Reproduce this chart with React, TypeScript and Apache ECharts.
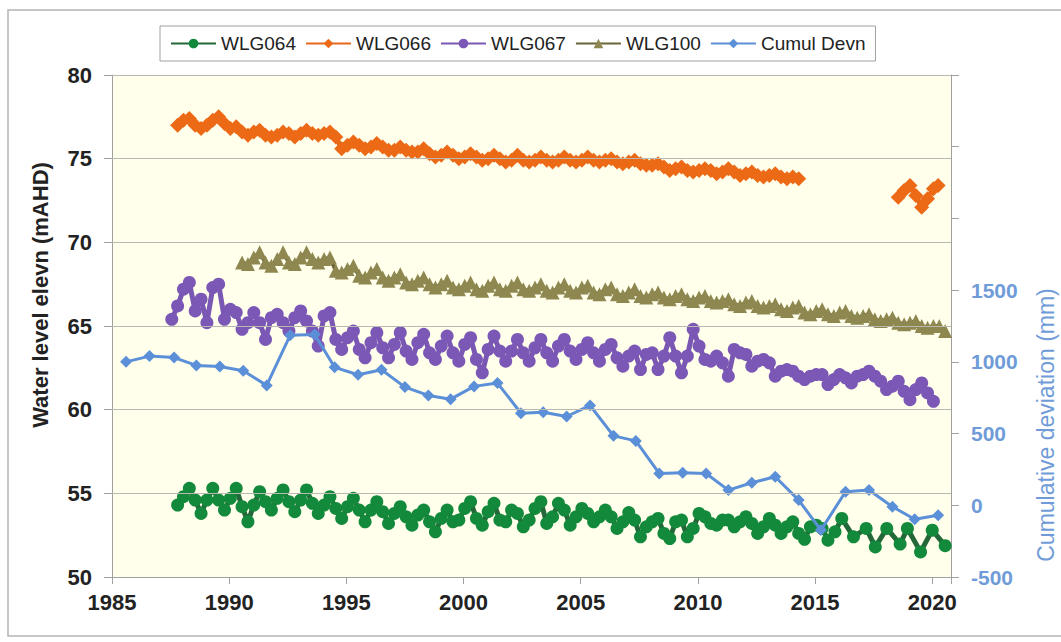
import React, { useEffect, useRef } from 'react';
import * as echarts from 'echarts';

const FONT = '"Liberation Sans", Arial, Helvetica, sans-serif';
const QSTEP = 0.25;

// WLG064: quarterly readings from 1987.8, then sparse readings
const WLG064_START = 1987.8;
const WLG064_Q = [
  54.3,
  54.8, 55.3, 54.6, 53.8,
  54.6, 55.3, 54.6, 54.0,
  54.7, 55.3, 54.2, 53.3,
  54.3, 55.1, 54.5, 54.0,
  54.7, 55.2, 54.5, 53.9,
  54.6, 55.2, 54.4, 53.8,
  54.3, 54.8, 54.1, 53.5,
  54.2, 54.7, 54.0, 53.3,
  54.0, 54.5, 53.9, 53.2,
  53.8, 54.2, 53.6, 53.1,
  53.7, 54.0, 53.3, 52.7,
  53.5, 54.0, 53.3, 53.4,
  54.1, 54.5, 53.5, 53.1,
  53.9, 54.4, 53.4, 53.3,
  54.0, 53.8, 53.0, 53.4,
  54.1, 54.5, 53.2, 53.6,
  54.4, 54.0, 53.1, 53.6,
  54.1, 53.8, 53.3, 53.6,
  54.0, 53.6, 52.9, 53.3,
  53.85, 53.4, 52.4, 53.0,
  53.3, 53.5, 52.6, 52.3,
  53.3, 53.4, 52.4, 52.9,
  53.8, 53.6, 53.2, 53.1,
  53.4, 53.4, 53.0, 53.3,
  53.6, 53.2, 52.6, 53.0,
  53.5, 53.1, 52.6, 53.0,
  53.3, 52.6, 52.25, 53.0,
  53.1, 52.9, 52.2,
];
const WLG064_LATE_YEARS = [2015.85, 2016.14, 2016.64, 2017.18, 2017.57, 2018.06, 2018.63, 2018.94, 2019.5, 2020.0, 2020.55];
const WLG064_LATE = [52.7, 53.5, 52.4, 52.9, 51.8, 52.9, 51.97, 52.9, 51.5, 52.8, 51.87];

// WLG066
const WLG066_START = 1987.8;
const WLG066_Q = [
  77.0,
  77.3, 77.4, 77.0, 76.8,
  77.0, 77.3, 77.5, 77.1,
  76.8, 76.9, 76.6, 76.4,
  76.6, 76.7, 76.4, 76.3,
  76.4, 76.6, 76.5, 76.3,
  76.5, 76.7, 76.5, 76.4,
  76.5, 76.6, 76.3, 75.6,
  75.8, 76.0, 75.8, 75.6,
  75.7, 75.9, 75.7, 75.5,
  75.5, 75.7, 75.5, 75.4,
  75.4, 75.6, 75.3, 75.1,
  75.2, 75.4, 75.2, 75.0,
  75.1, 75.3, 75.1, 74.9,
  75.0, 75.2, 75.0, 74.8,
  74.9, 75.2, 74.9, 74.8,
  74.9, 75.1, 74.9, 74.8,
  74.9, 75.1, 74.9, 74.8,
  74.9, 75.1, 74.9, 74.8,
  74.9, 75.0, 74.8, 74.7,
  74.8, 74.9, 74.7, 74.6,
  74.6, 74.7, 74.5, 74.3,
  74.4, 74.5, 74.3, 74.2,
  74.3, 74.4, 74.3, 74.1,
  74.2, 74.4, 74.2, 74.0,
  74.1, 74.2, 74.0, 73.9,
  74.0, 74.1, 73.9, 73.8,
  73.9, 73.8,
];
const WLG066_LATE_YEARS = [2018.55, 2018.8, 2019.05, 2019.3, 2019.55, 2019.8, 2020.05, 2020.25];
const WLG066_LATE = [72.7, 73.1, 73.4, 72.8, 72.1, 72.6, 73.2, 73.4];

// WLG067
const WLG067_START = 1987.55;
const WLG067_Q = [
  65.4, 66.2,
  67.2, 67.6, 65.9, 66.6,
  65.2, 67.3, 67.5, 65.4,
  66.0, 65.8, 64.8, 65.2,
  65.8, 65.2, 64.2, 65.5,
  65.7, 65.2, 64.7, 65.5,
  65.9, 65.3, 64.7, 63.8,
  65.6, 65.8, 64.2, 63.6,
  64.3, 64.7, 63.6, 63.1,
  64.0, 64.6, 63.7, 63.1,
  63.9, 64.6, 63.5, 63.0,
  64.0, 64.5, 63.4, 63.0,
  63.8, 64.4, 63.4, 62.9,
  63.9, 64.3, 63.0, 62.2,
  63.6, 64.4, 63.5, 62.9,
  63.5, 64.2, 63.4, 62.9,
  63.7, 64.2, 63.4, 62.9,
  63.8, 64.2, 63.5, 63.0,
  63.6, 64.0, 63.4, 62.9,
  63.6, 63.9, 63.1, 62.6,
  63.2, 63.5, 62.4, 63.3,
  63.4, 62.4, 63.2, 64.3,
  63.2, 62.2, 63.2, 64.8,
  63.8, 63.0, 62.9, 63.2,
  62.8, 62.0, 63.6, 63.4,
  63.3, 62.6, 62.9, 63.0,
  62.8, 62.0, 62.3, 62.4,
  62.3, 62.0, 61.8, 62.0,
  62.1, 62.1, 61.5, 61.8,
  62.1, 61.9, 61.6, 62.0,
  62.1, 62.3, 62.0, 61.7,
  61.2, 61.4, 61.7, 61.1,
  60.6, 61.2, 61.6, 61.0,
  60.5,
];

// WLG100
const WLG100_START = 1990.55;
const WLG100_Q = [
  68.8, 68.7,
  69.1, 69.4, 68.8, 68.6,
  69.0, 69.4, 68.8, 68.7,
  69.1, 69.4, 69.0, 68.8,
  69.0, 69.1, 68.3, 68.2,
  68.4, 68.6, 68.0, 67.9,
  68.2, 68.4, 67.9, 67.7,
  67.9, 68.1, 67.6, 67.5,
  67.7, 67.9, 67.5, 67.3,
  67.5, 67.7, 67.3, 67.2,
  67.4, 67.6, 67.2, 67.1,
  67.4, 67.6, 67.2, 67.1,
  67.4, 67.6, 67.2, 67.1,
  67.3, 67.5, 67.1, 67.0,
  67.3, 67.5, 67.1, 67.0,
  67.3, 67.4, 67.0, 66.9,
  67.2, 67.3, 66.9, 66.8,
  67.0, 67.2, 66.8, 66.7,
  66.9, 67.0, 66.7, 66.6,
  66.8, 66.9, 66.6, 66.5,
  66.7, 66.8, 66.5, 66.4,
  66.5, 66.6, 66.3, 66.2,
  66.4, 66.5, 66.2, 66.1,
  66.2, 66.3, 66.0, 65.9,
  66.1, 66.2, 65.8, 65.7,
  65.9, 66.0, 65.7, 65.6,
  65.8, 65.9, 65.6, 65.5,
  65.6, 65.7, 65.4, 65.3,
  65.4, 65.5, 65.2, 65.1,
  65.2, 65.3, 65.0, 64.9,
  65.0, 65.0, 64.7,
];

// Cumulative deviation (mm), annual
const CUMUL_YEARS = [
  1985.6, 1986.6, 1987.65, 1988.6, 1989.6, 1990.6, 1991.6, 1992.6, 1993.65, 1994.5,
  1995.5, 1996.5, 1997.5, 1998.5, 1999.45, 2000.45, 2001.45, 2002.45, 2003.4, 2004.4,
  2005.4, 2006.4, 2007.35, 2008.35, 2009.35, 2010.35, 2011.3, 2012.3, 2013.3, 2014.3,
  2015.25, 2016.3, 2017.3, 2018.3, 2019.25, 2020.25,
];
const CUMUL_DEVN = [
  1000, 1040, 1030, 975, 968, 938, 836, 1185, 1190, 962,
  910, 945, 824, 766, 740, 829, 852, 642, 648, 619,
  696, 484, 449, 222, 227, 222, 106, 157, 199, 36,
  -173, 94, 106, -10, -97, -69,
];

const X_MIN = 1985;
const X_MAX = 2020.8;
const X_INTERVAL = 5;
const Y_LEFT = { min: 50, max: 80, interval: 5 };
const Y_RIGHT = { min: -500, max: 3000, interval: 500, labelMax: 1500 };
const GRID_LEVELS = [55, 60, 65, 70, 75, 80];

function quarterly(start: number, values: number[]) {
  return values.map((v, i) => [Math.round((start + i * QSTEP) * 1000) / 1000, v]);
}
function pairs(years: number[], values: number[]) {
  return years.map((y, i) => [y, values[i]]);
}

export default function App() {
  const ref = useRef<HTMLDivElement>(null);
  useEffect(() => {
    if (!ref.current) return;
    const chart = echarts.init(ref.current, undefined, { renderer: 'svg' });

    const d064 = quarterly(WLG064_START, WLG064_Q).concat(pairs(WLG064_LATE_YEARS, WLG064_LATE));
    const d066: any[] = quarterly(WLG066_START, WLG066_Q);
    d066.push([2016.5, '-']);
    const d066all = d066.concat(pairs(WLG066_LATE_YEARS, WLG066_LATE));
    const d067 = quarterly(WLG067_START, WLG067_Q);
    const d100 = quarterly(WLG100_START, WLG100_Q);
    const dCum = pairs(CUMUL_YEARS, CUMUL_DEVN);

    const axisGray = '#A0A0A0';
    const gridGray = '#B9B9B2';
    const blue = '#5B8FD8';

    chart.setOption({
      animation: false,
      backgroundColor: '#ffffff',
      textStyle: { fontFamily: FONT },
      grid: {
        left: 112, right: 110, top: 75, bottom: 65,
        show: true, backgroundColor: '#FFFFEC', borderWidth: 0,
      },
      legend: {
        left: 160, top: 26,
        padding: [8, 10],
        itemWidth: 45, itemHeight: 12, itemGap: 9,
        borderColor: '#A0A0A0', borderWidth: 1, backgroundColor: '#ffffff',
        textStyle: { fontSize: 19, color: '#222', fontFamily: FONT },
        data: ['WLG064', 'WLG066', 'WLG067', 'WLG100', 'Cumul Devn'],
      },
      xAxis: {
        type: 'value', min: X_MIN, max: X_MAX, interval: X_INTERVAL,
        axisLine: { show: true, onZero: false, lineStyle: { color: axisGray } },
        axisTick: { show: true, length: 7, lineStyle: { color: axisGray } },
        splitLine: { show: false },
        axisLabel: {
          formatter: (v: number) => (v % X_INTERVAL === 0 ? String(v) : ''),
          fontSize: 22, fontWeight: 'bold', color: '#222', margin: 14, fontFamily: FONT,
        },
      },
      yAxis: [
        {
          type: 'value', min: Y_LEFT.min, max: Y_LEFT.max, interval: Y_LEFT.interval, position: 'left',
          axisLine: { show: true, onZero: false, lineStyle: { color: axisGray } },
          axisTick: { show: true, length: 8, lineStyle: { color: axisGray } },
          splitLine: { show: true, lineStyle: { color: gridGray, width: 1, type: 'solid', opacity: 1 } },
          axisLabel: { fontSize: 22, fontWeight: 'bold', color: '#222', margin: 20, fontFamily: FONT },
        },
        {
          type: 'value', min: Y_RIGHT.min, max: Y_RIGHT.max, interval: Y_RIGHT.interval, position: 'right',
          axisLine: { show: true, onZero: false, lineStyle: { color: axisGray } },
          axisTick: { show: true, length: 8, lineStyle: { color: axisGray } },
          splitLine: { show: false },
          axisLabel: {
            formatter: (v: number) => (v <= Y_RIGHT.labelMax ? String(v) : ''),
            fontSize: 21, fontWeight: 'bold', color: '#6F9CD8', margin: 20, fontFamily: FONT,
          },
        },
      ],
      series: [
        {
          name: 'gridlines', type: 'line', z: 1, silent: true,
          data: [[X_MIN, Y_LEFT.min]], symbol: 'none', showSymbol: false,
          lineStyle: { width: 0, opacity: 0 },
          markLine: {
            silent: true, symbol: ['none', 'none'], animation: false,
            label: { show: false },
            lineStyle: { color: gridGray, width: 1, type: 'solid' },
            emphasis: { disabled: true },
            data: GRID_LEVELS.map((v) => ({ yAxis: v })),
          },
        },
        {
          name: 'WLG064', type: 'line', data: d064, symbol: 'circle', symbolSize: 13, showAllSymbol: true,
          lineStyle: { color: '#24683A', width: 5 }, itemStyle: { color: '#138A3B' }, z: 3,
        },
        {
          name: 'WLG066', type: 'line', data: d066all, symbol: 'diamond', symbolSize: 15, showAllSymbol: true,
          connectNulls: false,
          lineStyle: { color: '#E8681A', width: 5 }, itemStyle: { color: '#EC6A16' }, z: 3,
        },
        {
          name: 'WLG067', type: 'line', data: d067, symbol: 'circle', symbolSize: 13, showAllSymbol: true,
          lineStyle: { color: '#7A57B2', width: 5 }, itemStyle: { color: '#7C58B6' }, z: 3,
        },
        {
          name: 'WLG100', type: 'line', data: d100, symbol: 'triangle', symbolSize: 14, showAllSymbol: true,
          lineStyle: { color: '#6A6538', width: 4 }, itemStyle: { color: '#8E8850' }, z: 3,
        },
        {
          name: 'Cumul Devn', type: 'line', yAxisIndex: 1, data: dCum, symbol: 'diamond', symbolSize: 12,
          showAllSymbol: true,
          lineStyle: { color: blue, width: 3 }, itemStyle: { color: blue }, z: 4,
        },
      ],
      graphic: [
        {
          type: 'rect', silent: true, z: 100,
          shape: { x: 8, y: 10, width: 1070, height: 626 },
          style: { fill: 'none', stroke: '#B4B4B4', lineWidth: 1.5 },
        },
        {
          type: 'text', x: 40, y: 295, rotation: Math.PI / 2, silent: true,
          style: {
            text: 'Water level elevn (mAHD)', fontSize: 22, fontWeight: 'bold', fontFamily: FONT,
            fill: '#222', align: 'center', verticalAlign: 'middle', textAlign: 'center', textVerticalAlign: 'middle',
          },
        },
        {
          type: 'text', x: 1046, y: 425, rotation: Math.PI / 2, silent: true,
          style: {
            text: 'Cumulative deviation (mm)', fontSize: 23, fontFamily: FONT,
            fill: '#6F9CD8', align: 'center', verticalAlign: 'middle', textAlign: 'center', textVerticalAlign: 'middle',
          },
        },
      ],
    });
    return () => chart.dispose();
  }, []);
  return (
    <div
      ref={ref}
      style={{ position: 'absolute', left: 0, top: 0, width: 1061, height: 642 }}
    />
  );
}
